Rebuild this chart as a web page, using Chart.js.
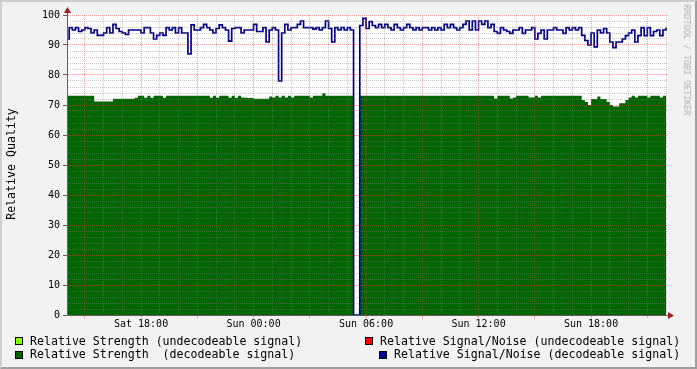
<!DOCTYPE html>
<html>
<head>
<meta charset="utf-8">
<script src="https://cdn.jsdelivr.net/npm/chart.js@4"></script>
<style>
  html, body { margin: 0; padding: 0; }
  body { width: 697px; height: 369px; position: relative; overflow: hidden; background: #f2f2f2; font-family: 'DejaVu Sans Mono', monospace; }
  #frame { position: absolute; left: 0; top: 0; width: 697px; height: 369px; box-sizing: border-box;
           border-top: 2px solid #cfcfcf; border-left: 2px solid #cfcfcf; border-right: 2px solid #9e9e9e; border-bottom: 2px solid #9e9e9e; }
  #chart { position: absolute; left: 0; top: 0; }
  .txt { position: absolute; white-space: pre; font-size: 11.6px; line-height: 14px; color: #000; }
  .box { position: absolute; width: 8px; height: 8px; box-sizing: border-box; border: 1px solid #000; }
  #ytitle { left: 11px; top: 164px; transform: translate(-50%, -50%) rotate(-90deg); }
  #credit { left: 687px; top: 60px; transform: translate(-50%, -50%) rotate(90deg); font-size: 8.4px; color: #b0b0b0; }
</style>
</head>
<body>
<div id="frame"></div>
<canvas id="chart" width="697" height="369"></canvas>

<div class="txt" id="ytitle">Relative Quality</div>
<div class="txt" id="credit">RRDTOOL / TOBI OETIKER</div>

<div class="box" style="left:15px; top:337px; background:#80ff00;"></div>
<div class="txt" style="left:30px; top:334px;">Relative Strength (undecodeable signal)</div>
<div class="box" style="left:365px; top:337px; background:#ff0000;"></div>
<div class="txt" style="left:380px; top:334px;">Relative Signal/Noise (undecodeable signal)</div>
<div class="box" style="left:15px; top:351px; background:#006600;"></div>
<div class="txt" style="left:30px; top:347px;">Relative Strength  (decodeable signal)</div>
<div class="box" style="left:379px; top:351px; background:#000099;"></div>
<div class="txt" style="left:394px; top:347px;">Relative Signal/Noise (decodeable signal)</div>

<script>
// samples every 10 minutes, starting Sat 14:00 (hours counted from Sat 00:00)
const START_HOUR = 14;
const STEP_MINUTES = 10;

// Relative Signal/Noise (decodeable signal)
const snrDecodeable = [
  92, 95.8, 95, 95.8, 94.5, 95, 95.8, 95.5, 94, 95,
  93.2, 93.2, 94, 95.8, 94, 96.9, 95.5, 94.5, 94, 93.5,
  95, 95, 95, 95, 94, 95.8, 95.8, 94, 92, 93.2,
  94, 93.2, 95.8, 95, 95.8, 94, 95.8, 94, 94, 87,
  96.7, 95, 95, 95.8, 96.9, 95.8, 95, 94, 95.5, 96.7,
  95.8, 95, 91.3, 95.5, 95.8, 95.8, 94, 95, 95, 95,
  96.9, 94.5, 94.5, 95.8, 91, 95, 95.8, 95, 78, 94,
  96.9, 95, 95.8, 95.8, 96.9, 98, 95.8, 95.8, 95.8, 95.3,
  95.8, 95, 95.8, 98, 95.5, 91, 95.8, 95, 95.8, 95,
  95.8, 95, 0, 0, 96.5, 98.9, 95.5, 97.8, 96.5, 95.8,
  96.9, 95.8, 96.9, 95.8, 95, 96.9, 95.8, 95, 95.8, 96.9,
  95.8, 95, 95.8, 95, 95.8, 95.8, 95, 95.8, 95, 95.8,
  95, 96.9, 95.8, 96.9, 95.8, 95, 95.8, 96.9, 98, 95,
  98, 95, 98, 96.9, 98, 95.8, 96.9, 94.5, 93.9, 95.8,
  95, 94.5, 93.9, 95, 95, 95.8, 93.9, 95, 95, 95.8,
  92, 93.9, 95, 92, 95, 95, 95.8, 95, 95, 93.9,
  95.8, 95, 95.8, 95, 95.8, 93.2, 91.5, 90, 94, 89.4,
  95, 94, 95.5, 94, 91, 89.1, 91, 91, 92, 93.1,
  94, 95, 91, 93.1, 95.8, 93.1, 95.8, 93.1, 94.5, 95,
  93.1, 95, 95.8
];

// Relative Strength (decodeable signal)
const strengthDecodeable = [
  73.1, 73.1, 73.1, 73.1, 73.1, 73.1, 73.1, 73.1, 73.1, 71.2,
  71.2, 71.2, 71.2, 71.2, 71.2, 72.1, 72.1, 72.1, 72.1, 72.1,
  72.1, 72.1, 72.4, 73.1, 73.1, 72.4, 73.1, 72.4, 73.1, 73.1,
  73.1, 72.4, 73.1, 73.1, 73.1, 73.1, 73.1, 73.1, 73.1, 73.1,
  73.1, 73.1, 73.1, 73.1, 73.1, 73.1, 72.4, 73.1, 72.4, 73.1,
  73.1, 73.1, 72.4, 73.1, 72.4, 73.1, 72.5, 72.4, 72.3, 72.3,
  72.1, 72.1, 72.1, 72.1, 72.1, 72.8, 72.5, 73.1, 72.5, 73.1,
  72.5, 73.1, 72.5, 73.1, 73.1, 73.1, 73.1, 73.1, 72.5, 73.1,
  73.1, 73.1, 73.9, 73.1, 73.1, 73.1, 73.1, 73.1, 73.1, 73.1,
  73.1, 73.1, 0, 0, 73.1, 73.1, 73.1, 73.1, 73.1, 73.1,
  73.1, 73.1, 73.1, 73.1, 73.1, 73.1, 73.1, 73.1, 73.1, 73.1,
  73.1, 73.1, 73.1, 73.1, 73.1, 73.1, 73.1, 73.1, 73.1, 73.1,
  73.1, 73.1, 73.1, 73.1, 73.1, 73.1, 73.1, 73.1, 73.1, 73.1,
  73.1, 73.1, 73.1, 73.1, 73.1, 73.1, 73.1, 72.2, 73.1, 73.1,
  73.1, 73.1, 72.2, 72.5, 73.1, 73.1, 73.1, 73.1, 72.5, 72.5,
  73.1, 72.5, 73.1, 73.1, 73.1, 73.1, 73.1, 73.1, 73.1, 73.1,
  73.1, 73.1, 73.1, 73.1, 73.1, 71.7, 71, 70, 72, 72,
  72.8, 72, 72, 71, 70, 69.5, 69.5, 70.6, 70.6, 71.7,
  72.5, 73.1, 72.5, 73.1, 73.1, 73.1, 72.5, 73.1, 73.1, 73.1,
  72.5, 73.1, 73.1
];

// x axis labels (hours from Sat 00:00)
const timeLabelHours = [18, 24, 30, 36, 42];
const timeLabels = ['Sat 18:00', 'Sun 00:00', 'Sun 06:00', 'Sun 12:00', 'Sun 18:00'];
const qualityLabels = [0, 10, 20, 30, 40, 50, 60, 70, 80, 90, 100];

const X_MIN = 14.05;
const X_MAX = 46.05;

const MINOR_GRID = 'rgba(128, 128, 128, 0.42)';
const MAJOR_GRID = 'rgba(230, 70, 70, 0.5)';
const AXIS_COLOR = '#606060';
const ARROW_COLOR = '#a01c1c';
const FONT = { family: "'DejaVu Sans Mono', monospace", size: 10 };

const toPoints = (values) => values.map((v, i) => ({ x: START_HOUR + i * STEP_MINUTES / 60, y: v }));

// hourly grid, red every 3 hours
const xGridHours = [];
for (let h = Math.ceil(X_MIN); h <= X_MAX; h++) xGridHours.push(h);
// y grid every 2, red every 10
const yGridValues = [];
for (let v = 0; v <= 100; v += 2) yGridValues.push(v);

// white canvas behind the plot
const canvasBg = {
    id: 'canvasBg',
    beforeDraw(chart) {
        const { ctx, chartArea: a } = chart;
        ctx.save();
        ctx.fillStyle = '#ffffff';
        ctx.fillRect(a.left, a.top, a.right - a.left + 1, a.bottom - a.top);
        ctx.restore();
    },
};

// rrdtool style axis arrows
const axisArrows = {
    id: 'axisArrows',
    afterDraw(chart) {
        const { ctx, chartArea: a } = chart;
        const x0 = Math.round(a.left) + 0.5;
        const y0 = Math.round(a.bottom) + 0.5;
        ctx.save();
        ctx.strokeStyle = AXIS_COLOR;
        ctx.lineWidth = 1;
        ctx.beginPath();
        ctx.moveTo(x0, y0);
        ctx.lineTo(x0, a.top - 5);
        ctx.moveTo(x0, y0);
        ctx.lineTo(a.right + 4, y0);
        ctx.stroke();
        ctx.fillStyle = ARROW_COLOR;
        ctx.beginPath();
        ctx.moveTo(x0 - 3.5, a.top - 2);
        ctx.lineTo(x0 + 3.5, a.top - 2);
        ctx.lineTo(x0, a.top - 8);
        ctx.closePath();
        ctx.fill();
        ctx.beginPath();
        ctx.moveTo(a.right + 1, y0 - 3.5);
        ctx.lineTo(a.right + 1, y0 + 3.5);
        ctx.lineTo(a.right + 7, y0);
        ctx.closePath();
        ctx.fill();
        ctx.restore();
    },
};

new Chart(document.getElementById('chart').getContext('2d'), {
    type: 'line',
    data: {
        datasets: [
            {
                label: 'Relative Signal/Noise (decodeable signal)',
                data: toPoints(snrDecodeable),
                stepped: true,
                borderColor: '#00008c',
                borderWidth: 1.7,
                pointRadius: 0,
                fill: false,
            },
            {
                label: 'Relative Strength  (decodeable signal)',
                data: toPoints(strengthDecodeable),
                stepped: true,
                borderWidth: 0,
                borderColor: '#006600',
                backgroundColor: '#006600',
                pointRadius: 0,
                fill: 'origin',
            },
        ],
    },
    options: {
        responsive: false,
        animation: false,
        devicePixelRatio: 1,
        layout: { padding: { top: 15, right: 30, left: 0, bottom: 0 } },
        plugins: { legend: { display: false }, tooltip: { enabled: false } },
        scales: {
            x: {
                type: 'linear',
                min: X_MIN,
                max: X_MAX,
                afterBuildTicks: (s) => { s.ticks = xGridHours.map((h) => ({ value: h })); },
                afterFit: (s) => { s.height = 54; },
                ticks: {
                    autoSkip: false,
                    maxRotation: 0,
                    padding: 0,
                    font: FONT,
                    color: '#000',
                    callback: (v) => {
                        const i = timeLabelHours.indexOf(v);
                        return i >= 0 ? timeLabels[i] : '';
                    },
                },
                grid: {
                    z: 1,
                    lineWidth: 1,
                    tickLength: 3,
                    color: (c) => (c.tick && c.tick.value % 3 === 0 ? MAJOR_GRID : MINOR_GRID),
                    tickColor: (c) => (c.tick && c.tick.value % 3 === 0 ? MAJOR_GRID : 'rgba(0,0,0,0)'),
                },
                border: { display: true, color: 'rgba(0,0,0,0)', dash: [1, 1] },
            },
            y: {
                min: 0,
                max: 100,
                afterBuildTicks: (s) => { s.ticks = yGridValues.map((v) => ({ value: v })); },
                afterFit: (s) => { s.width = 67; },
                ticks: {
                    autoSkip: false,
                    padding: 3,
                    font: FONT,
                    color: '#000',
                    callback: (v) => (qualityLabels.includes(v) ? String(v) : ''),
                },
                grid: {
                    z: 1,
                    lineWidth: 1,
                    tickLength: 4,
                    color: (c) => (c.tick && c.tick.value % 10 === 0 ? MAJOR_GRID : MINOR_GRID),
                    tickColor: (c) => (c.tick && c.tick.value % 10 === 0 ? AXIS_COLOR : 'rgba(0,0,0,0)'),
                },
                border: { display: true, color: 'rgba(0,0,0,0)', dash: [1, 1] },
            },
        },
    },
    plugins: [canvasBg, axisArrows],
});
</script>
</body>
</html>
